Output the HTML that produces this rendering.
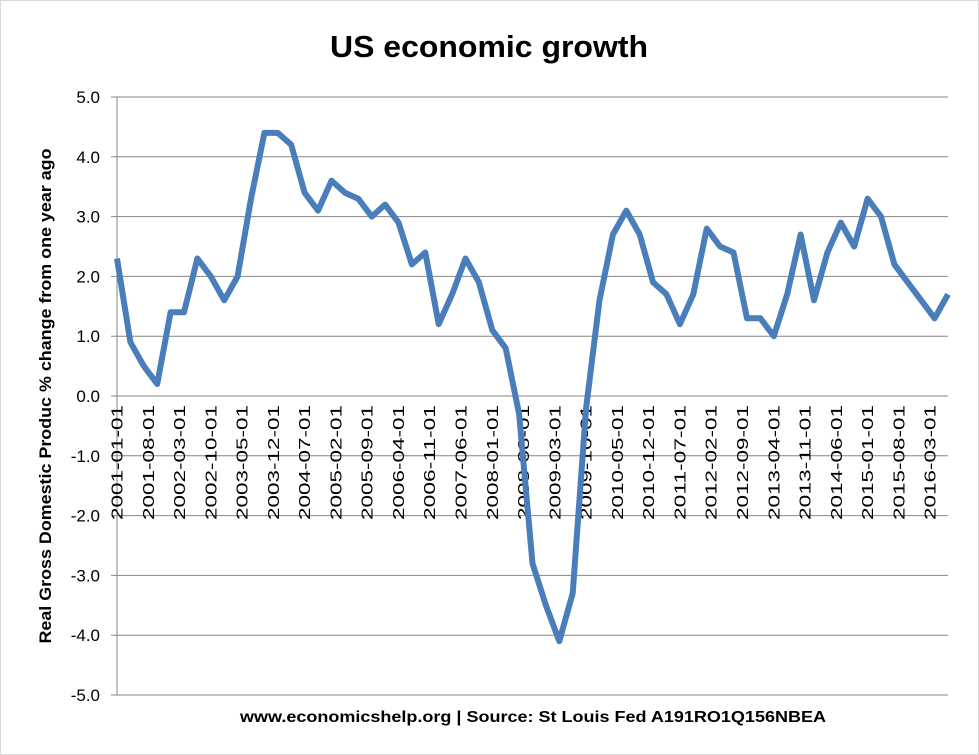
<!DOCTYPE html>
<html><head><meta charset="utf-8"><style>
body{margin:0;background:#fff}
svg{display:block;font-family:"Liberation Sans",sans-serif}
</style></head><body>
<svg width="979" height="755" viewBox="0 0 979 755">
<rect x="0.5" y="0.5" width="978" height="754" fill="#fff" stroke="#d9d9d9"/>
<text x="489" y="57" font-size="31" font-weight="bold" text-anchor="middle" textLength="318" lengthAdjust="spacingAndGlyphs">US economic growth</text>
<g id="grid"></g>
<g id="yticks"></g>
<g id="xticks"></g>
<polyline id="line" fill="none" stroke="#4a7ebb" stroke-width="6" stroke-linejoin="round"/>
<text transform="translate(51,396) rotate(-90)" font-size="16.5" font-weight="bold" text-anchor="middle" textLength="495" lengthAdjust="spacingAndGlyphs">Real Gross Domestic Produc % change from one year ago</text>
<text x="533" y="722" font-size="16" font-weight="bold" text-anchor="middle" textLength="586" lengthAdjust="spacingAndGlyphs">www.economicshelp.org | Source: St Louis Fed A191RO1Q156NBEA</text>
</svg>
<script>
const values=[2.3,0.9,0.5,0.2,1.4,1.4,2.3,2.0,1.6,2.0,3.3,4.4,4.4,4.2,3.4,3.1,3.6,3.4,3.3,3.0,3.2,2.9,2.2,2.4,1.2,1.7,2.3,1.9,1.1,0.8,-0.3,-2.8,-3.5,-4.1,-3.3,-0.2,1.6,2.7,3.1,2.7,1.9,1.7,1.2,1.7,2.8,2.5,2.4,1.3,1.3,1.0,1.7,2.7,1.6,2.4,2.9,2.5,3.3,3.0,2.2,1.9,1.6,1.3,1.7];
const yTicks=[5,4,3,2,1,0,-1,-2,-3,-4,-5];
const xLabels=["2001-01-01","2001-08-01","2002-03-01","2002-10-01","2003-05-01","2003-12-01","2004-07-01","2005-02-01","2005-09-01","2006-04-01","2006-11-01","2007-06-01","2008-01-01","2008-08-01","2009-03-01","2009-10-01","2010-05-01","2010-12-01","2011-07-01","2012-02-01","2012-09-01","2013-04-01","2013-11-01","2014-06-01","2015-01-01","2015-08-01","2016-03-01"];
const NS="http://www.w3.org/2000/svg";
const X0=117,X1=948,Y0=97,Y1=695,months=186;
const xm=m=>X0+(X1-X0)*m/months;
const y=v=>Y0+(5-v)*(Y1-Y0)/10;
function mk(t,a,p){const e=document.createElementNS(NS,t);for(const k in a)e.setAttribute(k,a[k]);p.appendChild(e);return e;}
const grid=document.getElementById('grid'),yt=document.getElementById('yticks'),xt=document.getElementById('xticks');
yTicks.forEach(v=>{
  const l=mk('line',{x1:X0-6,x2:X1,y1:y(v),y2:y(v),stroke:'#868686','stroke-width':1},grid);
  
  
  const t=mk('text',{x:100,y:y(v)+6,'font-size':17,'text-anchor':'end'},yt);
  t.textContent=v.toFixed(1);
  
  
});
const ax=mk('line',{x1:X0,x2:X0,y1:Y0,y2:Y1,stroke:'#868686','stroke-width':1},grid);


xLabels.forEach((s,i)=>{
  const x=xm(i*7);
  const t=mk('text',{transform:`translate(${x+5.5},405) rotate(-90)`,'font-size':15.5,'text-anchor':'end',textLength:115,lengthAdjust:'spacingAndGlyphs'},xt);
  t.textContent=s;
  
  
});
document.getElementById('line').setAttribute('points',values.map((v,i)=>xm(i*3).toFixed(1)+','+y(v).toFixed(1)).join(' '));
</script>
</body></html>
